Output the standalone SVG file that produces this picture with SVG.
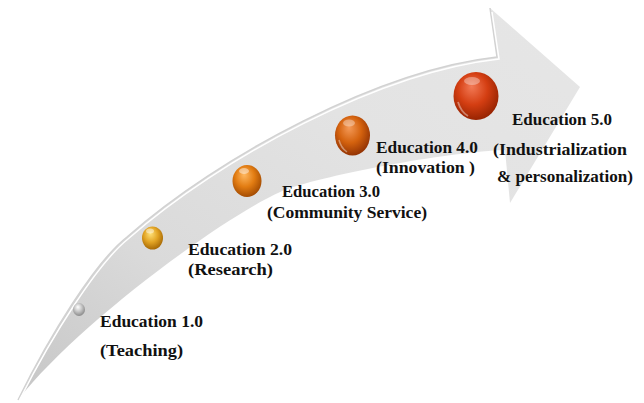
<svg xmlns="http://www.w3.org/2000/svg" width="644" height="403" viewBox="0 0 644 403">
<style>
.lbl{font-family:"Liberation Serif","DejaVu Serif",serif;font-weight:bold;font-size:17px;fill:#111111}
</style>
<defs>
<linearGradient id="arrowFill" x1="0" y1="1" x2="1" y2="0">
<stop offset="0" stop-color="#c6c6c6"/>
<stop offset="0.3" stop-color="#dadada"/>
<stop offset="0.65" stop-color="#e3e3e3"/>
<stop offset="1" stop-color="#e6e6e6"/>
</linearGradient>
<radialGradient id="gSilver" cx="0.45" cy="0.4" r="0.6" fx="0.4" fy="0.3">
<stop offset="0" stop-color="#ffffff"/>
<stop offset="0.5" stop-color="#c8c8c8"/>
<stop offset="1" stop-color="#8a8a8a"/>
</radialGradient>
<radialGradient id="gGold" cx="0.45" cy="0.4" r="0.6" fx="0.4" fy="0.3">
<stop offset="0" stop-color="#ffe27a"/>
<stop offset="0.55" stop-color="#e2a424"/>
<stop offset="1" stop-color="#a86a06"/>
</radialGradient>
<radialGradient id="gOrange" cx="0.45" cy="0.4" r="0.6" fx="0.4" fy="0.3">
<stop offset="0" stop-color="#ffb860"/>
<stop offset="0.55" stop-color="#e27c12"/>
<stop offset="1" stop-color="#a44c02"/>
</radialGradient>
<radialGradient id="gDark" cx="0.45" cy="0.4" r="0.6" fx="0.4" fy="0.3">
<stop offset="0" stop-color="#f49a58"/>
<stop offset="0.55" stop-color="#d4620e"/>
<stop offset="1" stop-color="#943404"/>
</radialGradient>
<radialGradient id="gRed" cx="0.45" cy="0.4" r="0.6" fx="0.4" fy="0.3">
<stop offset="0" stop-color="#f27a56"/>
<stop offset="0.55" stop-color="#d43e12"/>
<stop offset="1" stop-color="#982402"/>
</radialGradient>
</defs>

<g id="arrow">
<path d="M18,400 C50,335 95,262 127,237 C220,155 380,70 497,57 L490,8 L580,87 L510,203 L505,150 C450,152 340,172 290,188 C240,205 80,320 18,400 Z" fill="url(#arrowFill)"/>
<path d="M18,400 C50,335 95,262 127,237 C220,155 380,70 497,57 L490,8" fill="none" stroke="#d2d2d2" stroke-width="1.5"/>
<path d="M20,399 C52,336 97,264 128,239 C221,157 381,72 499,59 L492,12" fill="none" stroke="#ffffff" stroke-width="1.5"/>
</g>

<g id="connectors"></g>

<g id="node1">
<ellipse cx="79" cy="309.5" rx="6" ry="6.5" fill="url(#gSilver)"/>
<text class="lbl" x="100" y="327" textLength="103" lengthAdjust="spacingAndGlyphs">Education 1.0</text>
<text class="lbl" x="100" y="356" textLength="83" lengthAdjust="spacingAndGlyphs">(Teaching)</text>
</g>

<g id="node2">
<ellipse cx="152.5" cy="238" rx="10.5" ry="11.5" fill="url(#gGold)"/>
<ellipse cx="150" cy="231" rx="4" ry="2.5" fill="#fff" opacity="0.45"/>
<text class="lbl" x="188" y="255" textLength="104" lengthAdjust="spacingAndGlyphs">Education 2.0</text>
<text class="lbl" x="188" y="275" textLength="85" lengthAdjust="spacingAndGlyphs">(Research)</text>
</g>

<g id="node3">
<ellipse cx="247" cy="181" rx="14.5" ry="16" fill="url(#gOrange)"/>
<ellipse cx="244" cy="171" rx="5" ry="3" fill="#fff" opacity="0.45"/>
<text class="lbl" x="282" y="197" textLength="98" lengthAdjust="spacingAndGlyphs">Education 3.0</text>
<text class="lbl" x="267" y="218" textLength="160" lengthAdjust="spacingAndGlyphs">(Community Service)</text>
</g>

<g id="node4">
<ellipse cx="352.5" cy="135.5" rx="17.5" ry="20" fill="url(#gDark)"/>
<ellipse cx="349" cy="123" rx="6" ry="3.5" fill="#fff" opacity="0.35"/>
<path d="M339,140 Q341,148 347,152" fill="none" stroke="#fff" stroke-width="1.5" opacity="0.4"/>
<text class="lbl" x="376" y="153" textLength="102" lengthAdjust="spacingAndGlyphs">Education 4.0</text>
<text class="lbl" x="376" y="173" textLength="99" lengthAdjust="spacingAndGlyphs">(Innovation )</text>
</g>

<g id="node5">
<ellipse cx="476" cy="96" rx="22.5" ry="24" fill="url(#gRed)"/>
<ellipse cx="472" cy="81" rx="8" ry="4" fill="#fff" opacity="0.35"/>
<path d="M458,102 Q461,112 468,116" fill="none" stroke="#fff" stroke-width="1.8" opacity="0.4"/>
<text class="lbl" x="512" y="125" textLength="100" lengthAdjust="spacingAndGlyphs">Education 5.0</text>
<text class="lbl" x="493" y="155" textLength="134" lengthAdjust="spacingAndGlyphs">(Industrialization</text>
<text class="lbl" x="497" y="182" textLength="136" lengthAdjust="spacingAndGlyphs">&amp; personalization)</text>
</g>
</svg>
